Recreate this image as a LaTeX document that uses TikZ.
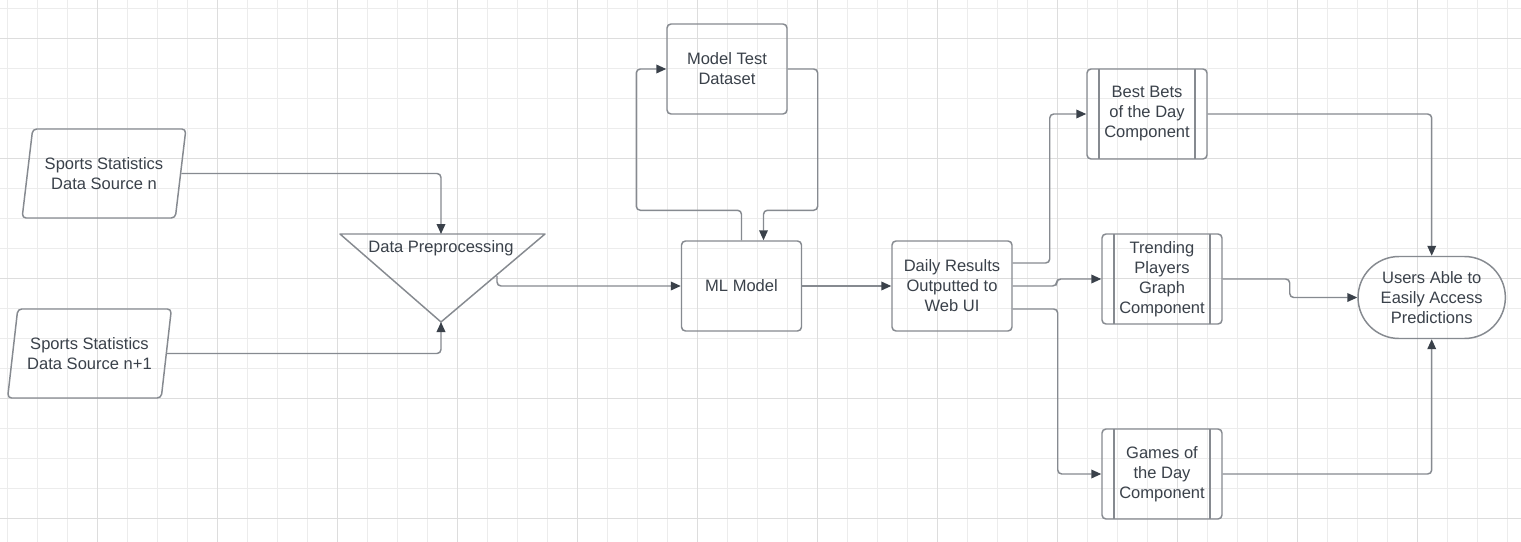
\documentclass[tikz,border=0pt]{standalone}
\usepackage{fontspec}
\setmainfont{Liberation Sans}
\usetikzlibrary{arrows.meta,shapes.geometric,shapes.misc,calc}
\definecolor{gridmin}{RGB}{236,236,236}
\definecolor{gridmaj}{RGB}{221,221,221}
\definecolor{edgegray}{RGB}{134,138,144}
\definecolor{inkdark}{RGB}{58,65,74}

\begin{document}
\begin{tikzpicture}[x=0.75pt,y=-0.75pt,
    font=\fontsize{12.4pt}{15pt}\selectfont,
    every node/.style={text=inkdark,align=center},
    box/.style={draw=edgegray,line width=1.1pt,rounded corners=3pt,minimum width=90pt,minimum height=67.5pt,inner sep=1pt},
    comp/.style={box,path picture={\draw[edgegray,line width=1.1pt]
        ([xshift=9pt]path picture bounding box.north west) -- ([xshift=9pt]path picture bounding box.south west)
        ([xshift=-9pt]path picture bounding box.north east) -- ([xshift=-9pt]path picture bounding box.south east);}},
    source/.style={trapezium,trapezium left angle=75.5,trapezium right angle=104.5,trapezium stretches=true,
        draw=edgegray,line width=1.1pt,rounded corners=3pt,minimum width=123pt,minimum height=66.75pt,inner sep=1pt},
    term/.style={rounded rectangle,draw=edgegray,line width=1.1pt,minimum width=112.5pt,minimum height=61.5pt,inner sep=1pt},
    conn/.style={draw=edgegray,line width=1.1pt,rounded corners=3pt,-{Triangle[length=7.5pt,width=6.5pt,color=inkdark]}}]
    \useasboundingbox (0,0) rectangle (1521,542);
    \fill[white] (0,0) rectangle (1521,542);
    % grid
    \foreach \i in {0,...,50} \draw[gridmin,line width=0.75pt] (7.3+30*\i,0) -- (7.3+30*\i,542);
    \foreach \j in {0,...,17} \draw[gridmin,line width=0.75pt] (0,8.3+30*\j) -- (1521,8.3+30*\j);
    \foreach \i in {0,...,11} \draw[gridmaj,line width=0.75pt] (97.3+120*\i,0) -- (97.3+120*\i,542);
    \foreach \j in {0,...,4} \draw[gridmaj,line width=0.75pt] (0,38.3+120*\j) -- (1521,38.3+120*\j);

    % inputs and preprocessing
    \node[source] (srcA) at (104,173.5) {Sports Statistics\\Data Source n};
    \node[source] (srcB) at (89.5,353.5) {Sports Statistics\\Data Source n+1};
    \draw[edgegray,line width=1.1pt,line join=round] (340,234) -- (545,234) -- (441,322) -- cycle;
    \node (prep) at (441,248) {Data Preprocessing};
    \coordinate (preTop) at (441,234);
    \coordinate (preTip) at (441,322);
    \coordinate (preOut) at (497,276);

    % model
    \node[box] (test) at (727,69) {Model Test\\Dataset};
    \node[box] (ml) at (741.5,286) {ML Model};
    \node[box] (daily) at (952,286) {Daily Results\\Outputted to\\Web UI};

    % web components
    \node[comp] (best) at (1147,114) {Best Bets\\of the Day\\Component};
    \node[comp] (trend) at (1162,279) {Trending\\Players\\Graph\\Component};
    \node[comp] (games) at (1162,474) {Games of\\the Day\\Component};
    \node[term] (users) at (1431.7,297.5) {Users Able to\\Easily Access\\Predictions};

    % connectors
    \draw[conn] (srcA) -| (preTop);
    \draw[conn] (srcB) -| (preTip);
    \draw[conn] (preOut) |- (ml);
    \draw[conn] (ml.north) -- ++(0,-30) -| ($(test.west)+(-30,0)$) -- (test.west);
    \draw[conn] (test.east) -- ++(30,0) |- ($(ml.north)+(22,-30)$) -- ($(ml.north)+(22,0)$);
    \draw[conn] (ml) -- (daily);
    \draw[conn] ($(daily.east)+(0,-23)$) -- ++(37,0) |- (best);
    \draw[conn] (daily.east) -- ++(44,0) |- (trend);
    \draw[conn] ($(daily.east)+(0,23)$) -- ++(45,0) |- (games);
    \draw[conn] (best) -| (users);
    \draw[conn] (trend.east) -- ++(67,0) |- (users);
    \draw[conn] (games) -| (users);
\end{tikzpicture}
\end{document}
